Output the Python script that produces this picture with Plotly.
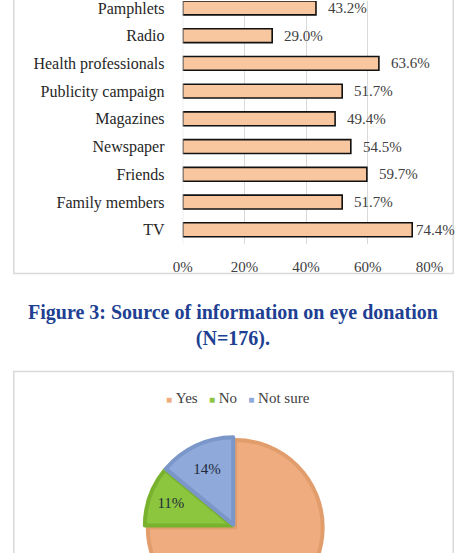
import plotly.graph_objects as go

# ---- data ----
sources = ["TV", "Family members", "Friends", "Newspaper", "Magazines",
           "Publicity campaign", "Health professionals", "Radio", "Pamphlets"]
source_pct = [74.4, 51.7, 59.7, 54.5, 49.4, 51.7, 63.6, 29.0, 43.2]
x_ticks = [0, 20, 40, 60, 80]
x_tick_labels = ["0%", "20%", "40%", "60%", "80%"]

pie_labels = ["Yes", "No", "Not sure"]
pie_values = [75, 11, 14]
pie_colors = ["#EFAD7F", "#8CC63F", "#8EA9DA"]
pie_edges = ["#E29D6C", "#78B22E", "#7B96C8"]

caption = "Figure 3: Source of information on eye donation<br>(N=176)."

W, H = 471, 640  # page taller than the window; only the top 553 px are visible
def px(x): return x / W
def py(y): return 1 - y / H

SERIF = "Liberation Serif, Times New Roman, serif"

fig = go.Figure()

fig.add_trace(go.Bar(
    x=source_pct, y=sources, orientation="h", width=0.5,
    marker=dict(color="#F8C7A0", line=dict(color="#111111", width=1.6)),
    showlegend=False, hoverinfo="x+y", xaxis="x", yaxis="y",
))

for v, s in zip(source_pct, sources):
    fig.add_annotation(x=v, y=s, xref="x", yref="y", text=f"{v:.1f}%",
                       showarrow=False, xanchor="left",
                       xshift=2 if v > 70 else 10,
                       font=dict(family=SERIF, size=15, color="#404040"))

fig.add_trace(go.Pie(
    labels=pie_labels, values=pie_values, sort=False, direction="clockwise",
    rotation=0, pull=[0.02, 0.02, 0.02],
    marker=dict(colors=pie_colors, line=dict(color=pie_edges, width=4)),
    texttemplate="%{percent:.0%}", textposition=["none", "inside", "inside"],
    insidetextorientation="horizontal",
    textfont=dict(family=SERIF, size=15, color="#1F2A3A"),
    domain=dict(x=[px(142), px(330)], y=[py(620), py(432)]),
    hoverinfo="label+percent", showlegend=False,
))

# compact legend (Excel style small squares)
sq = "font-size:10px"
legend_txt = "&nbsp;&nbsp;&nbsp;".join(
    f'<span style="color:{c};{sq}">■</span>&nbsp;{l}'
    for l, c in zip(pie_labels, pie_colors))
fig.add_annotation(x=px(240), y=py(398), xref="paper", yref="paper",
                   text=legend_txt, showarrow=False,
                   xanchor="center", yanchor="middle",
                   font=dict(family=SERIF, size=15, color="#404040"))

fig.update_layout(
    width=W, height=H,
    margin=dict(l=0, r=0, t=0, b=0),
    paper_bgcolor="white", plot_bgcolor="white",
    font=dict(family=SERIF, size=14, color="#262626"),
    xaxis=dict(domain=[px(182), px(442)], range=[0, 80],
               tickvals=x_ticks, ticktext=x_tick_labels,
               showgrid=True, gridcolor="#D9D9D9", gridwidth=1,
               zeroline=False, showline=False,
               ticks="outside", ticklen=9, tickcolor="rgba(0,0,0,0)",
               tickfont=dict(family=SERIF, size=15, color="#404040"),
               fixedrange=True),
    yaxis=dict(domain=[py(243), 1], range=[-0.5, 8.25],
               categoryorder="array", categoryarray=sources,
               showgrid=False, zeroline=False, showline=False,
               ticks="outside", ticklen=14, tickcolor="rgba(0,0,0,0)",
               tickfont=dict(family=SERIF, size=16, color="#262626"),
               fixedrange=True),
    showlegend=False,
)

fig.add_shape(type="line", xref="x", yref="paper", x0=0, x1=0,
              y0=py(243), y1=1, line=dict(color="#D9D9D9", width=1))

# chart frames
fig.add_shape(type="rect", xref="paper", yref="paper",
              x0=px(4), x1=px(467), y0=py(273), y1=py(-20),
              line=dict(color="#D9D9D9", width=1.5), layer="below")
fig.add_shape(type="rect", xref="paper", yref="paper",
              x0=px(4), x1=px(467), y0=py(H + 20), y1=py(371),
              line=dict(color="#D9D9D9", width=1.5), layer="below")

fig.add_annotation(x=px(235), y=py(325.5), xref="paper", yref="paper",
                   text=f"<b>{caption}</b>", showarrow=False,
                   xanchor="center", yanchor="middle",
                   font=dict(family=SERIF, size=20, color="#203F92"))

fig.write_html("out.html")
